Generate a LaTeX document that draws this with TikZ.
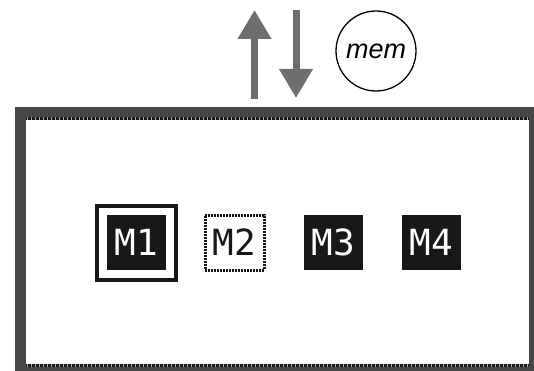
\documentclass[tikz,border=0pt]{standalone}
\usepackage{fontspec}
\newfontfamily\pixfont{DejaVu Sans Mono}
\newfontfamily\memfont{Liberation Sans}
\usepackage{tikz}
\usetikzlibrary{positioning, arrows.meta}
\definecolor{framegray}{HTML}{464646}
\definecolor{arrowgray}{HTML}{6E6E6E}
\definecolor{boxblack}{HTML}{181818}
\tikzset{
	modulenode/.style={
			shape=rectangle,
			fill=boxblack,
			text=white,
			minimum width=59pt,
			minimum height=55pt,
			inner sep=0pt,
			font=\pixfont\fontsize{36}{36}\selectfont
		},
	freenode/.style={
			modulenode,
			fill=white,
			text=boxblack,
			draw=boxblack,
			line width=3pt,
			dash pattern=on 2pt off 1pt
		},
	selectnode/.style={
			shape=rectangle,
			draw=boxblack,
			line width=4pt,
			minimum width=79pt,
			minimum height=74pt,
			inner sep=0pt
		},
	memnode/.style={
			circle,
			draw=black,
			line width=1.3pt,
			minimum size=80pt,
			inner sep=0pt,
			font=\memfont\itshape\fontsize{27}{27}\selectfont
		},
	busarrow/.style={
			draw=arrowgray,
			line width=7pt,
			-{Triangle[width=32pt,length=29pt]}
		}
}
\tikzset{
	stripe/.style={line width=3pt}
}

\begin{document}
\begin{tikzpicture}[x=1pt,y=-1pt]
  \useasboundingbox (0,0) rectangle (534,371);
  \clip (0,0) rectangle (534,371);

  % frame
  \fill[framegray] (15,107) rectangle (545,380);
  \fill[white] (26,117) rectangle (529,364);
  \draw[stripe, boxblack] (26,118.5) -- (529,118.5);
  \draw[stripe, gray!70, dash pattern=on 1pt off 3pt] (27,118.5) -- (529,118.5);
  \draw[stripe, boxblack] (26,365.5) -- (529,365.5);
  \draw[stripe, gray!70, dash pattern=on 1pt off 3pt] (27,365.5) -- (529,365.5);

  % modules
  \node[selectnode] (sel) at (136.5,243) {};
  \node[modulenode] (m1) at (136.5,242.5) {M1};
  \node[freenode] (m2) at (234.5,242.5) {M2};
  \node[modulenode] (m3) at (333.5,242.5) {M3};
  \node[modulenode] (m4) at (431.5,242.5) {M4};

  % memory
  \node[memnode] (mem) at (376,51) {mem};
  \coordinate (upfoot) at (254.5,99);
  \coordinate (uphead) at (254.5,10);
  \coordinate (downfoot) at (296,10);
  \coordinate (downhead) at (296,98);
  \draw[busarrow] (upfoot) -- (uphead);
  \draw[busarrow] (downfoot) -- (downhead);

\end{tikzpicture}
\end{document}
